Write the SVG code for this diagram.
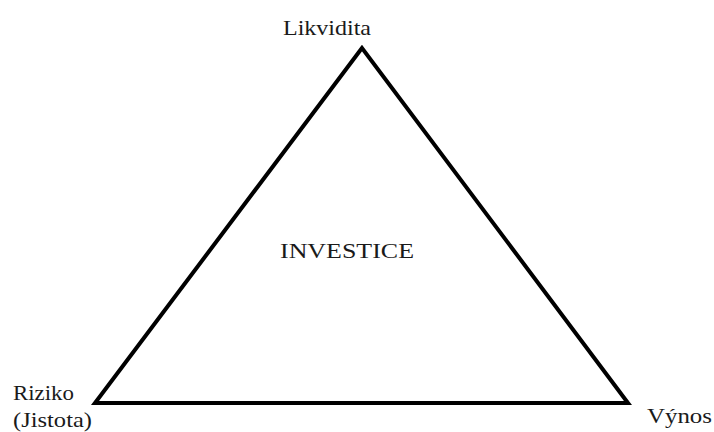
<svg xmlns="http://www.w3.org/2000/svg" width="714" height="432" viewBox="0 0 714 432">
<style>
text{font-family:"Liberation Serif","Times New Roman",serif;font-size:22px;fill:#1a1a1a}
.tri{fill:none;stroke:#000;stroke-width:4;stroke-linejoin:miter}
</style>
<rect width="714" height="432" fill="#fff"/>
<g id="connectors">
<polygon class="tri" points="362,48 95,403 628,403"/>
</g>
<g id="likvidita"><text x="283" y="35" textLength="88" lengthAdjust="spacingAndGlyphs">Likvidita</text></g>
<g id="investice"><text x="280" y="258" textLength="134" lengthAdjust="spacingAndGlyphs">INVESTICE</text></g>
<g id="riziko"><text x="13" y="400" textLength="61" lengthAdjust="spacingAndGlyphs">Riziko</text><text x="13" y="427" textLength="79" lengthAdjust="spacingAndGlyphs">(Jistota)</text></g>
<g id="vynos"><text x="647" y="423" textLength="65" lengthAdjust="spacingAndGlyphs">Výnos</text></g>
</svg>
